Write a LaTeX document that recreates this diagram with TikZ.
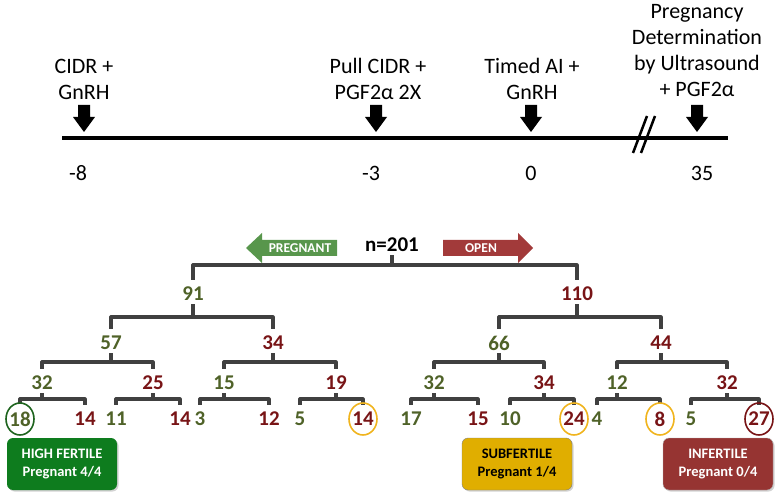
\documentclass[tikz,border=0pt]{standalone}
\usepackage{fontspec}
\setmainfont{Carlito}
\usetikzlibrary{shadows}

\definecolor{numgreen}{RGB}{79,98,40}
\definecolor{numred}{RGB}{120,20,22}
\definecolor{arrgreen}{RGB}{88,150,76}
\definecolor{arrred}{RGB}{162,58,58}
\definecolor{brkgray}{RGB}{64,64,64}
\definecolor{boxgreen}{RGB}{14,124,30}
\definecolor{boxgold}{RGB}{224,174,0}
\definecolor{boxred}{RGB}{150,52,50}
\definecolor{ringgreen}{RGB}{30,100,30}
\definecolor{ringgold}{RGB}{240,180,30}

\tikzset{
  lbl/.style={align=center,font=\fontsize{22}{26}\selectfont},
  gnum/.style={inner sep=0pt,text=numgreen,font=\fontsize{21}{24}\selectfont\bfseries},
  onum/.style={inner sep=0pt,text=numred,font=\fontsize{21}{24}\selectfont\bfseries},
  brk/.style={draw=brkgray,line width=3.2pt,line join=round},
  ring/.style={line width=1.6pt},
  result/.style={rounded corners=6pt,minimum width=110pt,minimum height=52pt,align=center,
    font=\fontsize{14.5}{18}\selectfont\bfseries,
    drop shadow={opacity=0.35,shadow xshift=1.5pt,shadow yshift=-1.5pt}}
}

% bracket: parent, left child, right child, bar height
\newcommand{\brk}[4]{%
  \draw[brk] ([yshift=-3pt]#1.south) -- (#1.south |- 0,#4);
  \draw[brk] ([yshift=7pt]#2.north) -- (#2.north |- 0,#4) -- (#3.north |- 0,#4) -- ([yshift=7pt]#3.north);
}

\begin{document}
\begin{tikzpicture}[x=1pt,y=-1pt]
  \useasboundingbox (0,0) rectangle (780,500);

  % timeline
  \draw [line width=4pt] (62,138) -- (728,138);
  \foreach \x in {84,376,531,697}{
    \fill (\x-6,105) -- (\x+6,105) -- (\x+6,117) -- (\x+11,117) -- (\x,132)
      -- (\x-11,117) -- (\x-6,117) -- cycle;
  }
  \draw [line width=2.5pt] (633,153) -- (647,116);
  \draw [line width=2.5pt] (641,153) -- (655,116);

  \node [lbl] (cidr) at (84,79) {CIDR +\\GnRH};
  \node [lbl] (pull) at (378,79) {Pull CIDR +\\PGF2α 2X};
  \node [lbl] (tai) at (532,79) {Timed AI +\\GnRH};
  \node [lbl] (preg) at (697,51) {Pregnancy\\Determination\\by Ultrasound\\+ PGF2α};
  \foreach \x/\d in {78/-8,371/-3,531/0,702/35}{
    \node [lbl] at (\x,173) {\d};
  }

  % direction arrows
  \fill [arrgreen] (337,240) -- (262,240) -- (262,233) -- (246,248) -- (262,263)
    -- (262,256) -- (337,256) -- cycle;
  \fill [arrred] (443,240) -- (518,240) -- (518,233) -- (533,248) -- (518,263)
    -- (518,256) -- (443,256) -- cycle;
  \node [text=white,font=\fontsize{13.5}{15}\selectfont\bfseries] (pgl) at (300,248) {PREGNANT};
  \node [text=white,font=\fontsize{13.5}{15}\selectfont\bfseries] (opl) at (481,248) {OPEN};

  % tree
  \node [inner sep=0pt,font=\fontsize{21}{24}\selectfont\bfseries] (r) at (392,245) {n=201};
  \node [gnum] (g) at (193,294) {91};
  \node [onum] (o) at (577,294) {110};
  \node [gnum] (gg) at (111,343) {57};
  \node [onum] (go) at (273,343) {34};
  \node [gnum] (og) at (499,343) {66};
  \node [onum] (oo) at (661,343) {44};
  \node [gnum] (ggg) at (42,383) {32};
  \node [onum] (ggo) at (153,383) {25};
  \node [gnum] (gog) at (224,383) {15};
  \node [onum] (goo) at (336,383) {19};
  \node [gnum] (ogg) at (434,383) {32};
  \node [onum] (ogo) at (544,383) {34};
  \node [gnum] (oog) at (617,383) {12};
  \node [onum] (ooo) at (727,383) {32};
  \node [gnum] (gggg) at (20,419) {18};
  \node [onum] (gggo) at (85,419) {14};
  \node [gnum] (ggog) at (116,419) {11};
  \node [onum] (ggoo) at (180,419) {14};
  \node [gnum] (gogg) at (200,419) {3};
  \node [onum] (gogo) at (269,419) {12};
  \node [gnum] (goog) at (300,419) {5};
  \node [onum] (gooo) at (363,419) {14};
  \node [gnum] (oggg) at (411,419) {17};
  \node [onum] (oggo) at (478,419) {15};
  \node [gnum] (ogog) at (510,419) {10};
  \node [onum] (ogoo) at (574,419) {24};
  \node [gnum] (oogg) at (597,419) {4};
  \node [onum] (oogo) at (660,419) {8};
  \node [gnum] (ooog) at (691,419) {5};
  \node [onum] (oooo) at (759,419) {27};

  \brk{r}{g}{o}{265}
  \brk{g}{gg}{go}{317}
  \brk{o}{og}{oo}{317}
  \brk{gg}{ggg}{ggo}{362}
  \brk{go}{gog}{goo}{362}
  \brk{og}{ogg}{ogo}{362}
  \brk{oo}{oog}{ooo}{362}
  \brk{ggg}{gggg}{gggo}{399}
  \brk{ggo}{ggog}{ggoo}{399}
  \brk{gog}{gogg}{gogo}{399}
  \brk{goo}{goog}{gooo}{399}
  \brk{ogg}{oggg}{oggo}{399}
  \brk{ogo}{ogog}{ogoo}{399}
  \brk{oog}{oogg}{oogo}{399}
  \brk{ooo}{ooog}{oooo}{399}

  % circled groups
  \draw [ring,ringgreen] (gggg.center) ellipse [x radius=14,y radius=16];
  \draw [ring,ringgold] (gooo.center) ellipse [x radius=14,y radius=16];
  \draw [ring,ringgold] (ogoo.center) ellipse [x radius=14,y radius=16];
  \draw [ring,ringgold] (oogo.center) ellipse [x radius=14,y radius=16];
  \draw [ring,numred] (oooo.center) ellipse [x radius=14,y radius=16];

  % results
  \node [result,fill=boxgreen,text=white] (hifert) at (62,464) {HIGH FERTILE\\Pregnant 4/4};
  \node [result,fill=boxgold,draw=gray,text=black] (subfert) at (517,464) {SUBFERTILE\\Pregnant 1/4};
  \node [result,fill=boxred,draw=gray!60,text=white] (infert) at (718,464) {INFERTILE\\Pregnant 0/4};
\end{tikzpicture}
\end{document}
